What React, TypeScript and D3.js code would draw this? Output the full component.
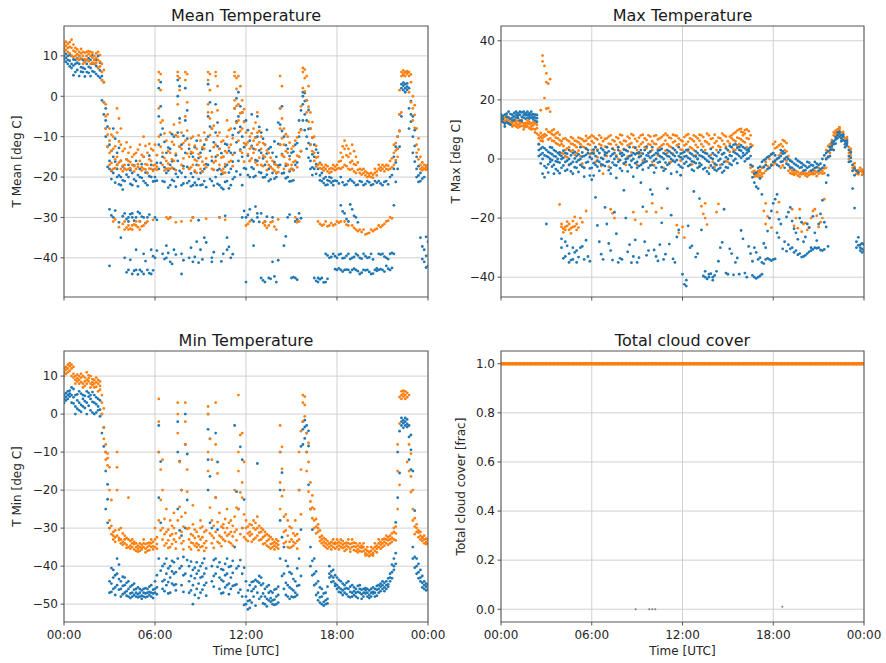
import React from 'react';
import * as d3 from 'd3';

// readings: one row every 15 minutes from 00:00 to 24:00 ("A" rows),
// plus the readings in between at the quarter-hour midpoints ("B" rows)
const STEP_HOURS = 0.25;
const hourTicks = [0, 6, 12, 18, 24];
const hourLabels = ['00:00', '06:00', '12:00', '18:00', '00:00'];

const meanTicks = [-40, -30, -20, -10, 0, 10];
const maxTicks = [-40, -20, 0, 20, 40];
const minTicks = [-50, -40, -30, -20, -10, 0, 10];
const cloudTicks = [0, 0.2, 0.4, 0.6, 0.8, 1.0];

const meanBlue = [
  [10, 9, 11], [9, 10, 8], [10, 8, 7], [9, 6, 8],
  [8, 10, 5], [7, 9, 6], [10, 8, 6], [9, 7, 5],
  [8, 6, 9], [7, 5, 10], [5, 4, -1], [-3, -6, -8, -10],
  [-12, -16, -18, -28, -42], [-15, -19, -8, -30], [-14, -18, -20, -17], [-16, -20, -22, -35],
  [-18, -21, -29, -40], [-17, -20, -30, -31, -43], [-19, -22, -29, -30, -44], [-16, -21, -30, -38, -43],
  [-18, -20, -31, -29, -43], [-15, -21, -30, -39, -44], [-19, -22, -30, -43], [-17, -20, -38, -44],
  [-20, -21, -30, -40], [2, -5, -12, -18], [-8, -15, -21, -39], [-14, -19, -37, -40],
  [-13, -17, -22, -30, -41], [-10, -18, -21, -38], [0, 4, -9, -16, -20], [-12, -19, -22, -39, -44],
  [2, -6, -14, -20], [-13, -18, -21, -40], [-15, -20, -22, -30, -41], [-11, -17, -22, -36],
  [-14, -19, -22, -38], [-12, -18, -21, -35], [3, -5, -10, -17], [-8, -16, -21, -40, -41],
  [-2, -9, -15, -20], [-13, -18, -22, -30], [-15, -19, -23, -39], [-12, -17, -21, -35, -38],
  [-14, -18, -22, -40], [-3, -8, -14, -20], [1, -5, -9, -16], [-4, -10, -15, -22, -30],
  [-6, -12, -18, -46, -30], [-11, -16, -20, -28], [-13, -18, -20, -31, -37], [-5, -10, -16, -30, -29],
  [-9, -14, -19, -29, -45], [-12, -17, -20, -31, -46], [-13, -18, -21, -45], [-14, -19, -30, -41],
  [-15, -19, -20, -46], [-3, -7, -12, -17], [-10, -15, -19, -37], [-13, -17, -20, -30],
  [-14, -18, -21, -45], [-12, -17, -31, -45], [-6, -10, -15, -29], [0, 1, -2, -6],
  [-1, -6, -10, -13], [-8, -12, -16, -18], [-12, -15, -18, -45], [-14, -18, -46, -45],
  [-19, -21, -45], [-20, -22, -39, -46], [-20, -21, -40], [-21, -22, -39],
  [-21, -40, -43], [-20, -27, -39, -43], [-22, -29, -40, -43], [-21, -31, -39, -43],
  [-21, -28, -40, -43], [-22, -30, -39, -43], [-21, -40, -44], [-22, -39, -43],
  [-21, -40, -43], [-22, -39, -44], [-21, -43], [-21, -39, -43],
  [-22, -39, -43], [-21, -40, -42], [-20, -39, -43], [-15, -18, -27, -39],
  [-10, -13, -18], [2, 3, -5], [3, 2, 1], [2, -3, -8],
  [-5, -10, -14], [-15, -18, -20], [-19, -21, -35], [-20, -38, -41],
  [-36, -42],
];
const meanBlueB = [
  [9.5, 10.5, 8.5], [10.2, 8.8, 7.4], [9.1, 7.6, 5.2], [8.3, 6.5, 9.4],
  [7.2, 9.3, 6.1], [8.6, 6.8, 4.9], [9.4, 7.3, 5.8], [8.1, 6.2, 10.1],
  [7.5, 9.0, 5.5], [6.4, 8.3, 4.6], [3.5, -1.5, -4.5], [-7.5, -12.5, -17.5],
  [-13.5, -18.5, -20.5, -29.5], [-16.2, -21.4, -10.5, -28.3], [-12.8, -19.6, -21.8, -31.2], [-17.4, -20.8, -23.1, -29.7],
  [-15.6, -19.4, -30.4, -43.6], [-18.3, -21.7, -29.2, -40.5], [-17.1, -20.6, -30.8, -43.2], [-19.5, -22.3, -28.6, -44.1],
  [-16.8, -20.2, -29.8, -43.4], [-18.9, -21.5, -31.4, -40.8], [-14.7, -19.8, -29.3, -43.8], [-18.2, -21.1, -39.6, -43.1],
  [-16.5, -20.9, -30.6, -38.2], [3.5, -2.5, -9.5, -16.5], [-11.3, -17.6, -21.2, -40.3], [-12.7, -18.4, -22.6, -38.8],
  [-9.4, -16.1, -20.7, -41.5], [-14.6, -19.2, -22.4, -39.2], [2.5, -5.5, -12.5, -18.5], [-9.8, -17.3, -21.6, -40.6],
  [-3.5, -10.5, -17.5, -21.5], [-14.2, -19.1, -22.3, -37.5], [-12.6, -18.7, -21.4, -39.8], [-15.3, -20.5, -30.7, -41.2],
  [-13.1, -18.6, -21.9, -40.4], [-10.7, -16.8, -22.5, -36.2], [-1.5, -7.5, -13.5, -20.5], [-11.4, -18.2, -22.1, -38.6],
  [-6.5, -12.4, -18.3, -21.7], [-14.1, -19.3, -22.6, -40.9], [-11.8, -17.4, -21.2, -29.6], [-13.5, -18.9, -22.8, -37.3],
  [-9.6, -16.2, -20.5, -39.1], [-0.5, -6.2, -11.4, -18.6], [-2.5, -7.6, -13.2, -19.4], [-6.3, -12.6, -17.8, -28.4],
  [-8.4, -14.7, -19.5, -29.4], [-4.5, -12.3, -17.6, -30.6], [-10.2, -15.8, -19.7, -27.3], [-7.6, -13.4, -18.8, -31.1],
  [-10.5, -15.4, -20.1, -45.6], [-8.3, -14.2, -19.4, -29.8], [-12.6, -17.5, -20.6, -45.2], [-11.2, -16.3, -20.4, -44.6],
  [-6.5, -11.8, -17.2, -40.6], [-2.5, -8.6, -14.3, -19.1], [-12.1, -17.2, -20.3, -34.7], [-14.8, -18.6, -21.1, -29.3],
  [-13.7, -18.2, -20.8, -44.8], [-11.6, -16.4, -30.5, -45.4], [-3.5, -8.2, -13.6, -30.2], [0.8, -1.2, -4.5, -8.4],
  [-3.4, -8.1, -11.6, -15.2], [-10.3, -14.4, -17.6, -19.5], [-13.2, -16.8, -19.2, -45.7], [-16.5, -19.6, -20.8, -45.3],
  [-20.4, -21.5, -46.1], [-20.8, -21.9, -39.4, -45.2], [-20.2, -21.4, -39.8], [-20.9, -39.6, -42.8],
  [-21.6, -39.2, -42.6], [-21.3, -28.5, -40.1, -43.4], [-21.8, -30.4, -39.5, -42.9], [-20.6, -26.8, -40.3, -43.6],
  [-21.4, -29.6, -39.8, -42.7], [-21.9, -31.2, -39.4, -43.3], [-21.2, -40.2, -43.7], [-21.7, -39.6, -43.1],
  [-21.3, -39.9, -43.5], [-21.8, -40.4, -43.9], [-21.4, -42.6, -43.2], [-21.6, -39.2, -42.8],
  [-21.2, -39.7, -43.4], [-21.8, -40.3, -42.7], [-19.5, -38.8, -42.5], [-12.5, -16.4, -21.2],
  [-4.5, -8.6, -12.5], [2.6, 3.4, 1.5], [2.4, 1.6, 3.2], [-1.2, -4.5, -6.3],
  [-8.4, -12.3, -16.2], [-17.3, -19.6, -21.2], [-20.4, -37.2, -40.3], [-34.8, -39.5, -42.4],
];

const meanOrange = [
  [12, 11, 13], [13, 12, 11], [14, 12, 10], [12, 10, 11],
  [11, 9, 10], [10, 11, 8], [11, 9, 10], [10, 8, 11],
  [10, 9, 8], [9, 7, 11], [8, 6, 4], [-2, -5, -8],
  [-8, -11, -14, -17], [-10, -13, -18, -31], [-3, -9, -15, -17], [-12, -16, -18, -8],
  [-13, -17, -18, -31, -33], [-14, -18, -16, -32, -33], [-17, -15, -32, -33], [-18, -14, -31, -32],
  [-16, -12, -31, -33], [-15, -18, -10, -32], [-17, -14, -19, -31], [-16, -18, -13],
  [-12, -18, -17], [6, 4, -3, -10], [-6, -14, -17], [-11, -16, -18, -30],
  [-9, -14, -18, -30], [-7, -12, -16], [6, 5, -2, -10], [-9, -13, -17, -31],
  [6, 4, -5, -11], [-12, -15, -18], [-10, -14, -17, -30], [-13, -16, -19],
  [-11, -15, -18], [-13, -9, -17], [6, 4, -2, -4], [-4, -8, -15, -18],
  [5, 6, -12, -16], [-9, -13, -17, -30], [-15, -11, -18, -19], [-10, -14, -6],
  [-12, -8, -16], [6, 5, -1, -3], [5, -2, -6, -11], [-1, -4, -8, -14],
  [-32, -9, -12], [-10, -13, -31, -16], [-8, -11, -14], [-4, -9, -12, -17],
  [-10, -13, -17], [-12, -15, -31, -32], [-14, -17, -32], [-16, -18, -31],
  [-17, -19, -33], [5, -3, -8, -12], [-8, -12, -15, -18], [-10, -14, -17],
  [-13, -17, -18], [-11, -16, -30], [-9, -15, -31], [6, 7, 2],
  [5, -1, -4], [-4, -8, -12], [-10, -14, -16], [-15, -17, -31],
  [-18, -17, -32], [-18, -17, -31], [-18, -19, -32], [-17, -18, -32],
  [-18, -17, -31], [-14, -16, -18, -31], [-11, -13, -17, -31], [-13, -15, -18, -32],
  [-12, -16, -18, -32], [-15, -17, -19, -33], [-18, -19, -33], [-18, -19, -33],
  [-19, -20, -34], [-19, -20, -33], [-19, -18, -33], [-18, -17, -32],
  [-18, -17, -32], [-17, -18, -31], [-16, -18, -30], [-12, -14, -17],
  [-10, -13, -15], [5, 6, -4], [6, 6, 5], [6, 5, 1],
  [0, -3, -6], [-8, -12, -14], [-15, -17, -18], [-17, -18],
  [-17, -18],
];
const meanOrangeB = [
  [12.5, 11.5, 13.5], [13.4, 12.2, 10.6], [12.8, 11.3, 9.7], [11.6, 10.4, 9.2],
  [10.6, 9.4, 11.7], [10.8, 9.2, 8.4], [10.5, 8.7, 11.2], [9.6, 10.8, 8.3],
  [9.5, 8.3, 10.6], [8.6, 10.2, 7.4], [6.5, 3.5, -1.5], [-4.5, -9.5, -12.5],
  [-9.5, -13.5, -16.5, -18.3], [-12.4, -15.6, -17.8, -30.5], [-5.5, -11.2, -16.4, -32.4], [-13.6, -17.2, -18.6, -31.6],
  [-11.4, -15.6, -18.2, -32.5], [-16.3, -17.8, -12.6, -32.8], [-14.4, -17.3, -18.6, -31.7], [-16.8, -13.2, -17.5, -32.4],
  [-14.5, -17.6, -18.4, -32.2], [-12.3, -16.8, -18.1, -31.4], [-15.6, -17.9, -11.8], [-13.4, -17.1, -18.5, -30.6],
  [-14.6, -17.4, -18.2], [5.5, 1.5, -6.5, -12.5], [-9.2, -15.3, -18.4], [-13.5, -16.7, -17.9, -30.4],
  [-11.3, -15.6, -17.7], [-9.6, -14.2, -18.3, -31.2], [4.5, 1.5, -6.5, -12.4], [-11.6, -15.4, -17.9],
  [5.5, -1.5, -8.5, -14.2], [-10.4, -13.8, -17.6, -30.8], [-12.2, -15.7, -18.4], [-9.7, -14.3, -17.1],
  [-12.6, -16.2, -18.7], [-10.8, -15.4, -17.6, -30.3], [5.5, 1.5, -5.5, -9.6], [-7.3, -12.6, -16.4, -18.2],
  [2.5, -3.5, -9.8, -14.6], [-11.3, -15.2, -18.4], [-13.6, -16.8, -18.9, -30.6], [-8.4, -12.7, -16.3],
  [-10.4, -14.5, -17.3], [4.5, 1.8, -2.4, -6.6], [2.5, -4.2, -8.6, -13.5], [-3.2, -6.4, -11.6, -16.2],
  [-11.4, -14.3, -31.6], [-9.2, -12.6, -15.4], [-6.5, -10.3, -13.2, -16.4], [-8.6, -11.4, -15.2],
  [-11.6, -14.7, -17.3, -31.4], [-13.4, -16.2, -18.3, -32.6], [-15.2, -17.6, -31.2], [-16.8, -18.4, -32.3],
  [-17.6, -18.8, -30.5], [2.5, -5.5, -10.4, -14.6], [-9.4, -13.6, -16.7], [-11.5, -15.6, -18.2],
  [-12.4, -16.3, -18.4], [-10.2, -14.7, -17.6, -31.2], [-2.5, -8.4, -13.6], [6.6, 4.5, 1.2],
  [2.5, -2.6, -6.3], [-6.4, -10.2, -13.6], [-12.3, -15.2, -17.4], [-16.6, -17.8, -31.6],
  [-17.6, -18.4, -31.8], [-17.3, -18.6, -32.2], [-17.8, -18.7, -31.4], [-17.4, -18.3, -31.7],
  [-16.2, -17.8, -31.3], [-12.4, -15.1, -17.6], [-12.2, -14.6, -17.3, -31.8], [-14.2, -16.4, -18.2],
  [-13.6, -16.8, -18.6, -32.6], [-16.4, -18.2, -33.4], [-18.2, -19.4, -33.6], [-18.6, -19.6, -34.2],
  [-19.2, -19.8, -33.8], [-19.4, -20.2, -33.4], [-18.6, -19.6, -32.8], [-17.6, -18.4, -32.4],
  [-17.4, -18.6, -31.6], [-17.2, -18.2, -30.8], [-15.4, -17.6, -30.2], [-11.6, -13.4, -15.8],
  [-4.5, 1.5, -8.6], [5.6, 6.4, 5.2], [6.2, 5.6, 5.8], [3.5, -1.5, 5.4],
  [-2.2, -4.6, -7.8], [-10.4, -13.2, -15.6], [-16.4, -17.6, -18.3], [-17.2, -18.2, -17.6],
];

const maxBlue = [
  [14, 13, 15], [11, 12, 15], [14, 16, 12], [15, 13, 14],
  [16, 14, 15], [15, 13, 16], [14, 16, 15], [15, 14, 16],
  [14, 15, 16], [15, 13, 14], [5, 3, 1], [2, 0, -5, 4],
  [-22, 1, -3, 3], [0, 2, -1, 4], [-2, 1, 3, -5], [0, 2, -4, -1],
  [1, -3, 0, -27, -30], [-1, 2, -4, -28, -33], [0, -2, 3, -32, -35], [2, -1, -5, -30, -34],
  [-1, 1, -3, -31, -35], [0, -2, 4, -30], [1, -3, -6, -34], [2, -1, 3, -33],
  [0, -3, 2, -7], [1, -2, 4, -13], [-1, 2, -4, -28], [0, 3, -2, -34],
  [2, -1, 4, -22], [1, -3, -5, -31], [0, 2, -2, -18], [3, -1, 4, -35],
  [2, 1, -4, -34], [0, 3, -1, -20], [1, -2, 4, -29], [0, 2, -6, -33],
  [-1, 2, -3, -35], [1, 3, -2, -8], [0, -1, 3, -28], [2, -3, 1, -31],
  [1, -2, 4, -12], [0, 2, -3, -33], [3, -1, 1, -29], [2, 0, -4, -34],
  [1, -2, 3, -10], [0, 2, -5, -19], [3, 1, -1, -35], [1, -2, 4, -24],
  [0, -3, 2, -39], [-1, 1, 3, -41, -43], [0, -2, 2, -30], [1, -1, -4, -11],
  [0, 2, -3, -32], [-2, 1, 3, -24], [0, -3, 2, -38, -40], [1, -1, -5, -39, -40],
  [0, -3, 2, -40, -41], [-2, -4, 1, -38], [-3, 0, 3, -30], [-1, -4, 2, -17],
  [0, -3, 3, -39], [1, -2, 4, -32], [2, 0, 5, -35], [3, 1, 4, -39],
  [2, 4, 1, -27], [3, 0, 2, -40], [1, 4, -2, -32], [-5, -8, -30, -40],
  [-3, -10, -34, -40], [-1, -12, -39, -35], [0, -2, -34, -30], [1, -3, -34, -20],
  [2, -1, -34, -15], [0, -2, -25, -12], [1, -1, 3, -22], [2, 0, -3, -28],
  [0, -2, -29, -18], [-1, -3, -30, -21], [-2, 0, -31, -25], [-3, -1, -32, -20],
  [-2, -4, -33, -28], [-3, -1, -32, -22], [-2, -4, -31, -30], [-3, -1, -30, -25],
  [-2, -4, -30, -22], [0, -3, -31, -14], [2, 0, -8, -23], [3, 4, 1],
  [5, 6, 3], [8, 9, 7], [8, 7, 6], [6, 5, 4],
  [3, 1, -1], [-2, -4, -10], [-4, -28, -30], [-29, -31, -30],
  [-31, -29],
];
const maxBlueB = [
  [13.6, 14.6, 12.5], [12.4, 14.2, 15.3], [13.5, 15.2, 11.6], [14.4, 15.6, 13.2],
  [15.4, 13.8, 14.6], [14.2, 15.8, 12.9], [15.5, 13.6, 14.8], [14.6, 15.4, 13.7],
  [15.2, 14.3, 13.4], [13.8, 14.9, 12.6], [3.5, 1.5, -1.5], [1.2, -2.4, 3.6, -6.2],
  [0.6, -1.8, 2.4, -4.6], [1.6, -2.6, 3.8, -0.4], [-0.8, 2.6, -3.4, 0.8], [1.4, -1.2, -4.8, 2.2],
  [0.4, -2.2, 2.8, -33.6], [-0.6, 1.8, -3.6, -29.4], [1.2, -1.6, -4.2, -34.2], [0.2, 2.4, -2.8, -31.6],
  [-0.4, 1.6, -4.4, -33.2], [0.8, -2.6, 2.2, -29.6], [-1.2, 1.4, 3.6, -27.5], [0.6, -3.2, -5.6, -34.6],
  [1.8, -1.4, 3.2, -5.6], [-0.6, 2.8, -2.6, -22.5], [0.4, -1.8, 3.6, -32.2], [1.2, -2.4, 2.2, -16.4],
  [-0.8, 2.6, -3.8, -28.6], [1.6, -1.2, 3.4, -34.2], [0.8, -2.2, -6.4, -25.3], [-0.4, 1.8, -3.2, -33.6],
  [1.4, -1.6, 3.2, -10.6], [0.2, 2.6, -4.2, -31.4], [-0.6, 1.2, -2.8, -35.1], [1.6, -1.4, 3.8, -27.4],
  [0.6, -2.4, 2.2, -33.4], [-1.4, 1.8, -3.6, -16.2], [1.2, -0.8, 4.2, -32.6], [0.4, 2.6, -2.2, -10.4],
  [-0.6, 1.4, -4.6, -30.8], [1.8, -1.2, 2.8, -34.5], [0.6, -2.8, 3.4, -21.6], [-1.2, 1.6, -3.4, -32.2],
  [0.8, -1.6, 2.6, -28.8], [1.4, -0.6, 3.6, -33.8], [-0.4, 2.2, -4.4, -26.4], [0.6, -2.6, 1.8, -5.5],
  [-1.6, 0.8, 2.4, -42.4], [0.4, -2.4, 3.2, -22.6], [-0.8, 1.6, -3.6, -29.4], [0.8, -1.4, 2.6, -33.2],
  [-1.4, 1.2, -2.6, -13.4], [0.6, -3.4, 2.4, -39.6], [-0.6, 1.8, -4.2, -40.6], [0.4, -2.2, 3.4, -38.8],
  [-1.6, 1.4, -3.6, -39.4], [-3.4, -0.6, 2.2, -34.6], [-1.8, 1.6, -4.6, -28.2], [0.6, -2.8, 3.6, -38.6],
  [1.2, -1.6, 4.4, -30.4], [2.4, -0.6, 4.8, -39.2], [1.6, 3.8, -1.4, -33.5], [2.8, 0.4, 4.6, -24.2],
  [1.4, 3.6, -0.8, -38.6], [2.6, 0.2, 3.4, -29.6], [-2.4, -6.2, -34.6, -39.4], [-4.6, -9.4, -31.6, -40.4],
  [-2.6, -6.6, -33.4, -39.6], [-0.4, -2.8, -35.4, -28.6], [0.6, -3.4, -33.6, -24.4], [1.6, -2.2, -34.4, -17.6],
  [1.2, -0.6, -33.8, -13.6], [0.4, -2.4, -20.4, -26.6], [1.8, -0.8, 2.6, -30.4], [0.6, -1.6, -31.2, -19.6],
  [-0.6, -2.8, -30.4, -16.4], [-1.6, -3.6, -31.6, -23.6], [-2.4, -0.6, -32.4, -27.2], [-2.8, -1.4, -33.2, -21.4],
  [-2.4, -3.8, -32.6, -26.4], [-2.6, -1.2, -31.4, -23.2], [-2.2, -3.6, -30.6, -19.4], [-2.8, -1.6, -30.2, -27.6],
  [-1.6, -3.4, -30.8, -18.6], [1.2, -2.2, -30.6, -21.4], [2.6, 0.6, -5.5, -29.6], [4.4, 3.2, 5.6],
  [6.6, 7.4, 5.2], [8.6, 9.2, 7.6], [7.6, 6.4, 8.2], [5.4, 4.6, 6.2],
  [2.2, 0.4, -0.8], [-3.2, -5.5, -16.6], [-26.5, -29.2, -4.6], [-28.6, -30.4, -31.6],
];

const maxOrange = [
  [14, 13], [14, 13, 12], [13, 12, 14], [13, 11, 12],
  [12, 13, 11], [12, 11, 13], [11, 12, 10], [12, 11, 13],
  [11, 12, 10], [12, 10, 9], [8, 7, 5], [6, 7, 8, 35, 33],
  [10, 8, 29, 26, 17], [9, 7, 16, 27], [8, 6, 10], [7, 5, 9],
  [5, 2, 6, -22, -23], [3, 7, 1, -23, -24], [4, 6, -2, -22, -24], [5, 3, 7, -21, -23],
  [6, 2, 4, -22, -24], [5, 7, 1, -20], [4, 6, -3], [5, 7, 2],
  [6, 3, 8], [4, 7, -1], [5, 8, 2], [6, 3, -5],
  [7, 4, 1], [5, 8, -17], [6, 3, -20], [7, 4, 0],
  [5, 8, 2], [6, 3, -2], [7, 5, 1], [8, 4, -18],
  [6, 3, -2], [8, 5, 2, -22], [7, 4, -1], [5, 8, 2],
  [6, 3, -1, -15], [8, 5, -18], [7, 4, 1], [5, 8, -3],
  [8, 5, 2], [7, 4, -1], [6, 8, 3], [7, 5, -25],
  [6, 3, -23], [8, 5, 1], [7, 4, -2], [6, 3, 8],
  [7, 4, 0], [5, 8, -16], [6, 3, -20, -15], [5, 8, -3],
  [4, 7, -1], [6, 3, -18], [7, 4, -2], [5, 8, 2],
  [6, 3, -1], [8, 7, 4], [9, 6, 3], [10, 7, 5],
  [9, 6, 8], [10, 7, 4], [8, 5, -3], [-4, -5, -6],
  [-5, -4, -6], [-5, -3, -6], [-4, -1, -22, -15], [0, -3, -20],
  [2, 5, -2], [4, 0, -18], [5, 2, -3], [3, 6, 0],
  [1, -2, -4], [-4, -5, -17], [-5, -4, -20], [-5, -6, -17],
  [-4, -5, -22], [-5, -6, -24], [-4, -5, -20], [-5, -4, -17],
  [-5, -3, -23], [-4, -5, -20], [-3, 0, 3], [4, 5, 2],
  [6, 8, 9], [10, 9, 8], [9, 8, 7], [7, 6, 5],
  [4, 2, 0], [-2, -3, -4], [-4, -5], [-4, -3],
  [-4, -5],
];
const maxOrangeB = [
  [13.6, 14.2, 12.8], [13.2, 12.6, 14.4], [12.4, 13.6, 11.8], [12.6, 11.4, 13.2],
  [11.6, 12.8, 10.6], [12.4, 11.2, 13.2], [10.8, 12.2, 11.4], [11.8, 12.6, 10.4],
  [11.4, 12.4, 10.2], [10.4, 11.6, 8.6], [7.4, 6.2, 8.8, 16.5], [7.6, 8.4, 20.6, 31.5],
  [9.2, 6.6, 25.5, 17.2], [8.4, 6.2, 9.6], [7.2, 5.4, 8.6], [6.4, 4.6, 8.2, -15.4],
  [4.4, 1.8, 6.8, -23.6, -24.8], [3.6, 6.4, 0.6, -22.6, -21.2], [5.2, 2.6, 7.4, -23.4, -25.2], [4.6, 1.4, 6.2, -22.8, -19.6],
  [5.6, 2.8, 7.2, -23.2], [4.2, 6.6, -1.6, -21.4], [6.2, 3.4, 7.8, -17.6], [4.8, 7.4, 1.6],
  [5.4, 2.4, 7.6], [6.6, 3.2, 0.6], [4.6, 7.2, -2.4], [6.8, 4.2, 1.4],
  [5.2, 7.6, -2.6], [6.4, 3.6, -18.4], [7.4, 4.8, 1.2], [5.6, 8.2, 2.6],
  [6.2, 3.4, -1.4], [7.6, 4.6, 0.8], [5.4, 8.4, 2.2], [6.8, 3.8, -20.6],
  [7.2, 4.2, 1.6], [5.6, 8.2, -0.6], [6.4, 3.6, -17.8], [7.6, 4.8, 2.4],
  [5.2, 7.8, -2.2], [6.6, 3.4, 1.2], [7.4, 4.6, -16.6], [6.2, 8.6, 2.8],
  [7.2, 4.4, -1.2], [5.6, 8.2, 1.8], [7.8, 4.6, -22.4], [6.4, 3.2, -0.6],
  [7.4, 4.6, -26.6], [5.8, 8.4, 2.6], [6.6, 3.6, -1.8], [7.6, 4.8, 1.2],
  [6.2, 8.2, -2.4], [7.4, 4.2, -18.6], [5.6, 8.6, -22.2], [6.8, 3.4, 1.4],
  [5.4, 8.2, -2.6], [7.2, 4.4, -15.2], [6.2, 8.6, 1.6], [7.6, 4.2, -0.8],
  [7.6, 5.2, 2.4], [8.6, 6.4, 3.2], [9.6, 7.2, 4.6], [9.2, 6.6, 10.2],
  [8.6, 9.8, 5.6], [9.4, 6.8, 3.2], [4.5, -2.6, -4.4], [-4.6, -5.4, -5.8],
  [-4.4, -5.6, -3.8], [-4.8, -2.6, -17.6], [-2.4, 0.6, -19.4], [1.6, -1.8, -23.2],
  [3.6, 5.8, -1.4], [4.6, 1.2, -14.6], [4.2, 6.4, -2.2], [2.6, 5.4, -0.6],
  [-0.6, -3.4, -4.8], [-4.6, -5.4, -22.6], [-4.4, -5.6, -23.4], [-5.2, -4.6, -24.6],
  [-4.8, -5.6, -21.6], [-5.4, -4.4, -23.2], [-4.6, -5.2, -17.6], [-4.4, -5.8, -19.2],
  [-4.6, -3.6, -21.4], [-3.2, -4.8, -13.6], [0.8, 2.6, 4.4], [5.2, 6.4, 3.6],
  [7.6, 8.6, 9.6], [10.4, 9.8, 10.8], [8.4, 9.2, 7.6], [6.6, 7.4, 5.6],
  [2.6, 3.4, 1.2], [-1.4, -2.6, -3.6], [-3.8, -4.6, -5.2], [-3.6, -4.4, -5.4],
];

const minBlue = [
  [4, 5, 3], [5, 4, 6], [7, 5, 3], [5, 2, 0],
  [3, 6, 1], [4, 2, 5], [6, 3, 0], [1, 4, 5],
  [3, 5, 0], [2, 4, 1], [0, -5], [-10, -15, -25],
  [-30, -44, -47], [-41, -43, -46], [-42, -45, -38], [-44, -46, -48],
  [-45, -47, -43], [-46, -48, -44], [-47, -48, -45], [-46, -47, -48],
  [-47, -48, -46], [-47, -46, -48], [-46, -48, -47], [-47, -45, -48],
  [-44, -47, -46], [-3, -10, -22, -38], [-40, -44, -46], [-38, -42, -45],
  [-40, -43, -47], [-39, -42, -45], [-2, -10, -25, -38], [-20, -32, -40, -45],
  [0, -8, -30, -42], [-40, -44, -47], [-41, -45, -50], [-39, -42, -46],
  [-40, -43, -47], [-38, -42, -45], [0, -4, -12, -20], [-30, -40, -44],
  [-5, -22, -38, -42], [-39, -43, -46], [-41, -44, -47], [-38, -42, -45],
  [-40, -43, -46], [-3, -35, -45], [-25, -40, -47], [-12, -30, -42, -48],
  [-44, -48, -50], [-45, -49, -51], [-44, -46, -48], [-13, -44, -47],
  [-43, -45, -48], [-46, -48, -50], [-45, -47, -49], [-47, -49, -50],
  [-46, -48, -50], [-10, -20, -28, -38], [-35, -42, -46], [-40, -45, -48],
  [-42, -46, -48], [-44, -47, -48], [-20, -38, -45], [-2, -4, -8],
  [-3, -5, -10], [-25, -35, -40], [-38, -42, -45], [-44, -47, -49],
  [-46, -48, -50], [-47, -49, -50], [-40, -43, -42], [-41, -43, -44],
  [-43, -45, -46], [-44, -46, -47], [-45, -46, -47], [-44, -46, -48],
  [-45, -47, -48], [-46, -47, -48], [-45, -47, -46], [-46, -48, -47],
  [-47, -46, -48], [-46, -47, -48], [-47, -48, -46], [-46, -47, -45],
  [-45, -46, -44], [-44, -45, -46], [-42, -44, -43], [-40, -41, -38],
  [-22, -10], [-1, -2, -3], [-2, -3, -1], [-3, -6, -12],
  [-15, -35, -38], [-38, -40, -42], [-41, -43, -44], [-44, -45, -46],
  [-45, -46],
];
const minBlueB = [
  [4.5, 5.5, 3.6], [6.2, 4.6, 5.4], [6.6, 4.4, 2.8], [3.6, 1.4, 5.2],
  [2.4, 5.4, 0.6], [4.8, 1.6, 3.4], [5.6, 2.2, 4.6], [0.4, 3.2, 5.8],
  [2.6, 4.4, 0.4], [1.2, 3.6, -0.6], [-3.5, -8.5], [-18.5, -22.4, -28.6],
  [-40.5, -44.6, -46.8], [-42.4, -45.6, -47.6], [-39.6, -43.4, -46.2], [-42.8, -45.2, -47.4],
  [-44.4, -46.6, -47.8], [-45.4, -47.2, -48.4], [-46.2, -47.6, -44.6], [-45.6, -47.4, -48.2],
  [-46.4, -47.8, -48.6], [-45.8, -47.2, -48.2], [-46.8, -47.6, -45.4], [-46.2, -48.4, -47.2],
  [-42.4, -45.6, -47.4], [-12.5, -28.6, -41.2], [-39.4, -43.6, -46.6], [-40.6, -44.2, -47.2],
  [-38.6, -41.4, -44.6], [-41.6, -44.8, -46.4], [-12.4, -30.6, -40.6], [-37.6, -42.4, -46.8],
  [-10.5, -22.6, -38.4], [-38.8, -42.6, -46.4], [-40.4, -43.2, -47.6], [-41.2, -44.6, -48.4],
  [-39.2, -42.8, -46.2], [-40.6, -44.4, -47.8], [-6.5, -16.4, -28.6], [-38.4, -42.6, -45.4],
  [-12.6, -30.4, -40.2], [-40.8, -43.6, -47.2], [-39.4, -42.4, -45.6], [-40.2, -44.6, -47.4],
  [-38.6, -41.8, -45.2], [-20.4, -40.6, -44.8], [-8.6, -38.4, -46.2], [-22.5, -40.4, -50.2],
  [-46.4, -49.2, -51.4], [-44.2, -46.6, -49.6], [-43.6, -45.4, -50.4], [-42.6, -44.4, -48.6],
  [-44.6, -47.2, -49.8], [-45.4, -48.6, -50.6], [-46.6, -48.4, -49.4], [-46.2, -48.8, -50.2],
  [-45.4, -47.6, -49.6], [-15.4, -32.4, -42.6], [-38.6, -44.4, -47.6], [-41.6, -45.6, -48.6],
  [-43.4, -46.4, -48.2], [-40.6, -45.2, -47.6], [-8.5, -30.4, -42.6], [-1.6, -3.4, -6.4],
  [-4.4, -8.4, -18.6], [-30.4, -38.6, -42.4], [-41.4, -44.6, -47.6], [-45.6, -48.2, -49.6],
  [-47.2, -49.4, -50.4], [-45.4, -48.6, -49.8], [-41.4, -42.6, -44.2], [-42.4, -44.6, -45.2],
  [-43.6, -45.6, -46.8], [-44.6, -46.4, -47.6], [-44.4, -45.8, -47.4], [-45.4, -46.8, -48.2],
  [-45.6, -46.6, -47.6], [-45.2, -46.8, -48.4], [-46.2, -47.4, -48.6], [-45.8, -47.2, -46.4],
  [-46.4, -47.6, -48.4], [-46.8, -47.2, -45.6], [-46.2, -47.8, -45.2], [-45.4, -46.6, -44.6],
  [-44.4, -45.6, -46.6], [-43.2, -44.8, -45.4], [-41.6, -43.2, -39.6], [-36.6, -39.4, -28.5],
  [-15.5, -4.5], [-1.6, -2.4, -3.6], [-2.6, -1.4, -3.4], [-5.5, -9.4, -14.6],
  [-25.4, -37.6, -40.4], [-39.4, -41.6, -43.2], [-42.6, -44.4, -45.6], [-44.6, -45.4, -46.4],
];

const minOrange = [
  [11, 12, 10], [12, 11, 13], [13, 12, 10], [10, 9, 8],
  [9, 10, 8], [10, 8, 7], [9, 11, 8], [8, 10, 7],
  [9, 7, 8], [8, 6, 9], [5, 3, 0], [-8, -10, -12],
  [-14, -20, -28, -30], [-31, -33, -32], [-10, -14, -20, -32], [-30, -33, -34],
  [-32, -34, -33], [-33, -35, -22], [-34, -35, -33], [-35, -34, -36],
  [-35, -34, -36], [-34, -35, -33], [-35, -36, -34], [-34, -33, -35],
  [-33, -35, -30], [4, -2, -10, -28], [-12, -20, -30, -33], [-25, -31, -34],
  [-28, -32, -35], [-30, -33, -26], [3, 0, -5, -28], [-20, -27, -31, -34],
  [3, -2, -8, -26], [-30, -33, -35], [-24, -29, -32, -34], [-31, -34, -35],
  [-30, -33, -35, -28], [-31, -34, -36], [2, 0, -10, -15], [-12, -28, -32, -34],
  [3, -8, -22, -31], [-26, -32, -34], [-29, -33, -30], [-25, -30, -32],
  [-28, -31, -34], [-20, -27, -31], [5, -10, -15, -25], [-5, -18, -22, -30],
  [-30, -33, -28], [-31, -29, -32], [-30, -33, -28], [-27, -30, -32],
  [-31, -33, -30], [-32, -34, -31], [-33, -35, -32], [-34, -35, -33],
  [-33, -35, -34], [-3, -10, -18, -25], [-20, -27, -31, -34], [-28, -32, -35],
  [-30, -33, -35], [-32, -34, -28], [-10, -20, -33], [3, 5, -2],
  [-5, -10, -15], [-18, -23, -25], [-25, -28, -30], [-29, -31, -30],
  [-32, -33, -34], [-33, -34, -35], [-34, -35, -34], [-35, -34, -33],
  [-34, -35, -33], [-34, -33, -35], [-35, -34, -36], [-34, -35, -33],
  [-34, -35, -33], [-35, -34, -36], [-35, -36, -34], [-36, -35, -34],
  [-36, -37, -35], [-37, -36, -35], [-35, -36, -34], [-34, -35, -33],
  [-34, -33, -35], [-33, -34, -32], [-33, -32, -34], [-31, -33, -30],
  [-25, -15, -8], [6, 5, 4], [5, 6, 4], [5, -8, -15],
  [-25, -20, -28], [-30, -31, -29], [-32, -31, -33], [-33, -32, -34],
  [-33, -34],
];
const minOrangeB = [
  [11.6, 12.4, 10.6], [12.6, 13.4, 11.4], [12.4, 10.6, 9.6], [9.4, 10.4, 8.6],
  [9.6, 8.4, 10.6], [8.6, 9.6, 7.4], [10.2, 8.6, 9.4], [9.2, 7.6, 8.4],
  [8.4, 9.6, 7.2], [7.4, 8.6, 6.4], [1.5, -3.5, -6.5], [-10.4, -11.6, -13.5],
  [-22.6, -29.4, -31.6], [-30.6, -32.4, -33.6], [-30.4, -32.6, -33.2], [-31.4, -33.6, -34.4],
  [-32.6, -34.4, -35.2], [-33.4, -34.6, -35.4], [-34.2, -35.6, -33.6], [-34.6, -35.4, -36.2],
  [-34.4, -35.6, -35.2], [-35.4, -34.2, -36.4], [-34.6, -35.8, -33.8], [-33.6, -34.8, -35.6],
  [-32.4, -34.2, -35.4], [-14.6, -22.6, -30.6], [-27.6, -31.6, -34.6], [-30.4, -33.2, -35.2],
  [-29.4, -31.6, -34.2], [-31.4, -33.6, -35.4], [-12.6, -24.4, -32.6], [-29.6, -33.4, -35.6],
  [-14.6, -20.4, -30.2], [-31.6, -33.8, -35.6], [-30.4, -32.6, -34.6], [-32.2, -34.4, -35.8],
  [-29.6, -32.4, -34.8], [-30.6, -33.4, -35.2], [-6.5, -24.6, -31.4], [-29.4, -32.6, -35.2],
  [-15.6, -28.4, -33.6], [-29.6, -32.4, -34.8], [-27.6, -31.2, -33.4], [-28.6, -31.6, -33.6],
  [-29.4, -32.2, -34.6], [-24.6, -30.4, -33.2], [-5.5, -20.6, -31.6], [-12.6, -26.4, -32.4],
  [-29.6, -31.4, -33.4], [-29.2, -31.6, -33.6], [-28.6, -30.4, -32.6], [-29.4, -31.2, -33.2],
  [-30.4, -32.4, -34.2], [-31.6, -33.4, -34.6], [-32.4, -34.2, -35.4], [-33.6, -34.6, -35.6],
  [-33.4, -34.4, -35.4], [-8.6, -14.4, -21.6], [-26.4, -30.6, -33.6], [-29.6, -33.6, -35.2],
  [-31.4, -33.6, -34.6], [-31.6, -33.4, -35.4], [-4.5, -14.6, -26.4], [4.6, 2.4, -0.6],
  [-7.6, -12.6, -20.4], [-21.4, -24.6, -27.4], [-27.6, -29.6, -31.4], [-30.6, -32.4, -33.4],
  [-32.6, -33.6, -34.6], [-33.4, -34.4, -35.4], [-33.6, -34.6, -35.6], [-34.2, -35.4, -33.8],
  [-33.6, -34.6, -35.6], [-34.4, -35.2, -33.4], [-34.6, -35.6, -33.8], [-34.2, -35.4, -36.2],
  [-33.8, -34.8, -35.8], [-34.6, -35.6, -36.4], [-35.2, -36.2, -34.6], [-35.6, -36.6, -37.2],
  [-36.4, -37.4, -36.2], [-36.6, -35.4, -37.2], [-35.4, -34.6, -36.4], [-34.4, -33.6, -35.4],
  [-33.6, -34.6, -32.8], [-33.2, -32.4, -34.4], [-32.6, -33.6, -31.4], [-29.6, -31.4, -33.2],
  [-2.5, 4.5, -18.6], [5.4, 6.2, 4.6], [5.6, 4.4, -12.6], [-10.4, -20.5, -16.4],
  [-27.4, -29.6, -31.6], [-30.6, -32.4, -31.2], [-32.4, -33.4, -32.6], [-32.8, -33.6, -34.2],
];

const cloudOrange = [
  [1], [1], [1], [1], [1], [1], [1], [1], [1], [1], [1], [1],
  [1], [1], [1], [1], [1], [1], [1], [1], [1], [1], [1], [1],
  [1], [1], [1], [1], [1], [1], [1], [1], [1], [1], [1], [1],
  [1], [1], [1], [1], [1], [1], [1], [1], [1], [1], [1], [1],
  [1], [1], [1], [1], [1], [1], [1], [1], [1], [1], [1], [1],
  [1], [1], [1], [1], [1], [1], [1], [1], [1], [1], [1], [1],
  [1], [1], [1], [1], [1], [1], [1], [1], [1], [1], [1], [1],
  [1], [1], [1], [1], [1], [1], [1], [1], [1], [1], [1], [1],
  [1],
];
// the few clear-sky readings near zero, as [hour, fraction]
const cloudClear = [[8.9, 0], [9.8, 0], [10.0, 0], [10.2, 0], [18.6, 0.01]];

const BLUE = '#1f77b4';
const ORANGE = '#ff7f0e';
const FONT = 'DejaVu Sans, sans-serif';

type Scale = d3.ScaleLinear<number, number>;
type Box = { left: number; top: number; width: number; height: number };

function Panel(props: {
  id: string;
  box: Box;
  title: string;
  ylabel: string;
  yDomain: [number, number];
  yTicks: number[];
  yFormat: (v: number) => string;
  showXLabels: boolean;
  labelX: number;
  children?: (x: Scale, y: Scale) => React.ReactNode;
}) {
  const { box } = props;
  const x = d3.scaleLinear().domain([0, 24]).range([box.left, box.left + box.width]);
  const y = d3.scaleLinear().domain(props.yDomain).range([box.top + box.height, box.top]);
  const bottom = box.top + box.height;
  const right = box.left + box.width;
  return (
    <g>
      <defs>
        <clipPath id={props.id}>
          <rect x={box.left} y={box.top} width={box.width} height={box.height} />
        </clipPath>
      </defs>
      {hourTicks.map((h, i) => (
        <line key={'gx' + i} x1={x(h)} x2={x(h)} y1={box.top} y2={bottom} stroke="#cccccc" strokeWidth={0.9} />
      ))}
      {props.yTicks.map((t, i) => (
        <line key={'gy' + i} x1={box.left} x2={right} y1={y(t)} y2={y(t)} stroke="#cccccc" strokeWidth={0.9} />
      ))}
      <g clipPath={`url(#${props.id})`}>{props.children && props.children(x, y)}</g>
      <rect x={box.left} y={box.top} width={box.width} height={box.height} fill="none" stroke="#555" strokeWidth={1} />
      {hourTicks.map((h, i) => (
        <g key={'tx' + i}>
          <line x1={x(h)} x2={x(h)} y1={bottom} y2={bottom + 3.5} stroke="#555" />
          {props.showXLabels && (
            <text x={x(h)} y={bottom + 17} textAnchor="middle" fontSize={12} fontFamily={FONT} fill="#262626">
              {hourLabels[i]}
            </text>
          )}
        </g>
      ))}
      {props.yTicks.map((t, i) => (
        <g key={'ty' + i}>
          <line x1={box.left - 3.5} x2={box.left} y1={y(t)} y2={y(t)} stroke="#555" />
          <text x={box.left - 6} y={y(t) + 4.3} textAnchor="end" fontSize={12} fontFamily={FONT} fill="#262626">
            {props.yFormat(t)}
          </text>
        </g>
      ))}
      <text x={(box.left + right) / 2} y={box.top - 5} textAnchor="middle" fontSize={16} fontFamily={FONT} fill="#1a1a1a">
        {props.title}
      </text>
      <text
        transform={`translate(${props.labelX},${box.top + box.height / 2}) rotate(-90)`}
        textAnchor="middle"
        fontSize={12}
        fontFamily={FONT}
        fill="#262626"
      >
        {props.ylabel}
      </text>
      {props.showXLabels && (
        <text x={(box.left + right) / 2} y={bottom + 33} textAnchor="middle" fontSize={12} fontFamily={FONT} fill="#262626">
          Time [UTC]
        </text>
      )}
    </g>
  );
}

// offset: 0 for the quarter-hour rows, 0.5 for the rows in between
function dots(rows: number[][], color: string, x: Scale, y: Scale, offset = 0, r = 1.4) {
  const out: React.ReactNode[] = [];
  rows.forEach((vals, i) => {
    vals.forEach((v, j) => {
      out.push(
        <circle key={color + offset + '_' + i + '_' + j} cx={x((i + offset) * STEP_HOURS)} cy={y(v)} r={r} fill={color} />
      );
    });
  });
  return out;
}

function pair(a: number[][], b: number[][], color: string, x: Scale, y: Scale) {
  return [...dots(a, color, x, y, 0), ...dots(b, color, x, y, 0.5)];
}

const intFmt = d3.format('d');
const fracFmt = d3.format('.1f');

export default function App() {
  const left = { left: 64, width: 364 };
  const right = { left: 501, width: 363 };
  const top = { top: 26, height: 271 };
  const bot = { top: 351, height: 271 };
  const cloudLine = (x: Scale, y: Scale) =>
    d3.line<number[]>().x((_, i) => x(i * STEP_HOURS)).y((d) => y(d[0]))(cloudOrange) || '';
  return (
    <svg width={886} height={663} style={{ position: 'absolute', left: 0, top: 0, background: '#fff' }}>
      <rect width={886} height={663} fill="#fff" />
      <Panel id="c1" box={{ ...left, ...top }} title="Mean Temperature" ylabel="T Mean [deg C]"
        yDomain={[-49.7, 17.4]} yTicks={meanTicks} yFormat={intFmt} showXLabels={false} labelX={21}>
        {(x, y) => [...pair(meanBlue, meanBlueB, BLUE, x, y), ...pair(meanOrange, meanOrangeB, ORANGE, x, y)]}
      </Panel>
      <Panel id="c2" box={{ ...right, ...top }} title="Max Temperature" ylabel="T Max [deg C]"
        yDomain={[-46.7, 45]} yTicks={maxTicks} yFormat={intFmt} showXLabels={false} labelX={460}>
        {(x, y) => [...pair(maxOrange, maxOrangeB, ORANGE, x, y), ...pair(maxBlue, maxBlueB, BLUE, x, y)]}
      </Panel>
      <Panel id="c3" box={{ ...left, ...bot }} title="Min Temperature" ylabel="T Min [deg C]"
        yDomain={[-54.7, 16.6]} yTicks={minTicks} yFormat={intFmt} showXLabels={true} labelX={21}>
        {(x, y) => [...pair(minBlue, minBlueB, BLUE, x, y), ...pair(minOrange, minOrangeB, ORANGE, x, y)]}
      </Panel>
      <Panel id="c4" box={{ ...right, ...bot }} title="Total cloud cover" ylabel="Total cloud cover [frac]"
        yDomain={[-0.052, 1.052]} yTicks={cloudTicks} yFormat={fracFmt} showXLabels={true} labelX={465}>
        {(x, y) => [
          <path key="cl" d={cloudLine(x, y)} stroke={ORANGE} strokeWidth={3.5} fill="none" />,
          ...dots(cloudOrange, ORANGE, x, y, 0, 1.8),
          ...cloudClear.map((d, i) => (
            <circle key={'cc' + i} cx={x(d[0])} cy={y(d[1])} r={1} fill="#7a7a7a" />
          )),
        ]}
      </Panel>
    </svg>
  );
}
